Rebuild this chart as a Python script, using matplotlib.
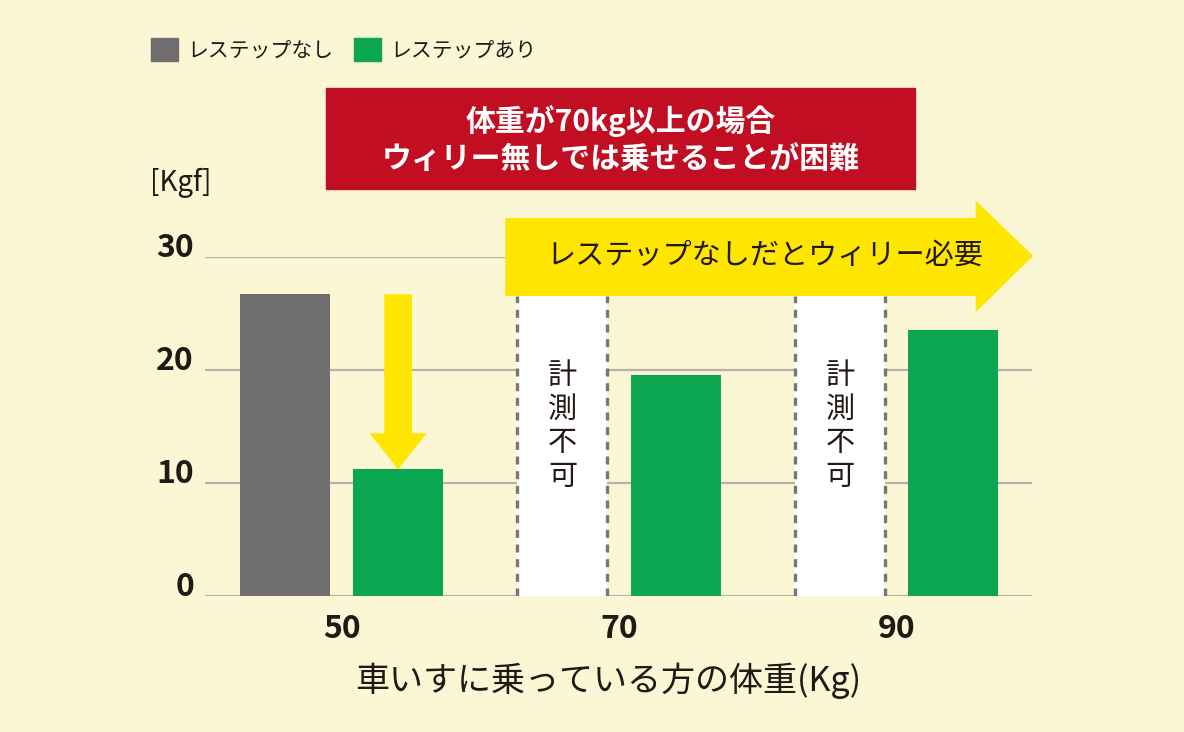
import matplotlib
matplotlib.use("Agg")
import matplotlib.pyplot as plt
import numpy as np
from matplotlib.patches import Polygon, Rectangle

plt.rcParams['font.family'] = ['Noto Sans CJK JP', 'DejaVu Sans']

# data
weights = ["50", "70", "90"]
nashi = [26.7, np.nan, np.nan]      # レステップなし (70, 90: 計測不可)
ari = [11.2, 19.6, 23.5]            # レステップあり
yticks = [0, 10, 20, 30]

bg = "#fbf7d5"
gray = "#6f6d6e"
green = "#0ca650"
red = "#c20e23"
yellow = "#ffe600"
ink = "#231815"

fig = plt.figure(figsize=(11.84, 7.32), dpi=100, facecolor=bg)
ax = fig.add_axes([205/1184, 136/732, 827/1184, 339/732])
ax.set_facecolor(bg)

x = np.arange(len(weights))
w = 0.324
off = 0.204

ax.set_xlim(-0.492, 2.488)
ax.set_ylim(0, 30)

# grid
for yv in yticks:
    ax.axhline(yv, color="#b4b2aa", lw=1.6, zorder=0)

ax.bar(x - off, nashi, w, color=gray, zorder=2)
ax.bar(x + off, ari, w, color=green, zorder=2)

# not measurable columns
arrow_bot = 26.55
for i in range(len(weights)):
    if np.isnan(nashi[i]):
        ax.bar(x[i] - off, arrow_bot, w, color="white", zorder=1)
        ax.vlines([x[i] - off - w/2, x[i] - off + w/2], 0, arrow_bot,
                  colors="#777777", lw=2.4, linestyles=(0, (2.4, 2.0)), zorder=3)
        ax.text(x[i] - off, 15.0, "\n".join("計測不可"), ha="center", va="center",
                fontsize=21, color=ink, linespacing=1.16, zorder=4)

# yellow down arrow (50)
cx = x[0] + off
sw, hw = 0.05, 0.103
top, tip = nashi[0], ari[0]
hstart = tip + 3.2
ax.add_patch(Polygon([[cx - sw, top], [cx + sw, top], [cx + sw, hstart], [cx + hw, hstart],
                      [cx, tip], [cx - hw, hstart], [cx - sw, hstart]],
                     closed=True, color=yellow, zorder=5, lw=0))

# yellow banner arrow
ax.add_patch(Polygon([[0.59, arrow_bot], [0.59, 33.45], [2.285, 33.45], [2.285, 35.0],
                      [2.492, 30.1], [2.285, 25.1], [2.285, arrow_bot]],
                     closed=True, color=yellow, zorder=5, lw=0, clip_on=False))
ax.text(1.525, 30.1, "レステップなしだとウィリー必要", ha="center", va="center",
        fontsize=21, color=ink, zorder=6)

# axes styling
for s in ax.spines.values():
    s.set_visible(False)
ax.set_yticks(yticks)
ax.set_yticklabels([str(v) for v in yticks], fontsize=23, fontweight="bold", color=ink)
for t in ax.get_yticklabels():
    t.set_va("baseline")
ax.set_xticks(x)
ax.set_xticklabels(weights, fontsize=23, fontweight="bold", color=ink)
ax.tick_params(axis="both", length=0)
ax.tick_params(axis="y", pad=8)
ax.tick_params(axis="x", pad=12.5)
fig.text(608/1184, 1 - 681/732, "車いすに乗っている方の体重(Kg)", fontsize=24.5, color=ink,
         ha="center", va="center")
fig.text(150/1184, 1 - 183/732, "[Kgf]", fontsize=20, color=ink, ha="left", va="center")

# red note box
fig.patches.append(Rectangle((326/1184, 1 - 189/732), 589/1184, 101/732,
                             transform=fig.transFigure, color=red, zorder=1))
fig.text(621/1184, 1 - 140/732, "体重が70kg以上の場合\nウィリー無しでは乗せることが困難",
         ha="center", va="center", fontsize=21.5, fontweight="bold", color="white",
         linespacing=1.3, zorder=2)

# legend
h1 = Rectangle((0, 0), 1, 1, color=gray)
h2 = Rectangle((0, 0), 1, 1, color=green)
fig.legend([h1, h2], ["レステップなし", "レステップあり"], loc="center left",
           bbox_to_anchor=(132/1184, 1 - 50/732), ncol=2, frameon=False, fontsize=15,
           handlelength=1.3, handleheight=1.3, handletextpad=0.45, columnspacing=1.0,
           labelcolor=ink)

fig.savefig("out.png", dpi=100, facecolor=bg)
